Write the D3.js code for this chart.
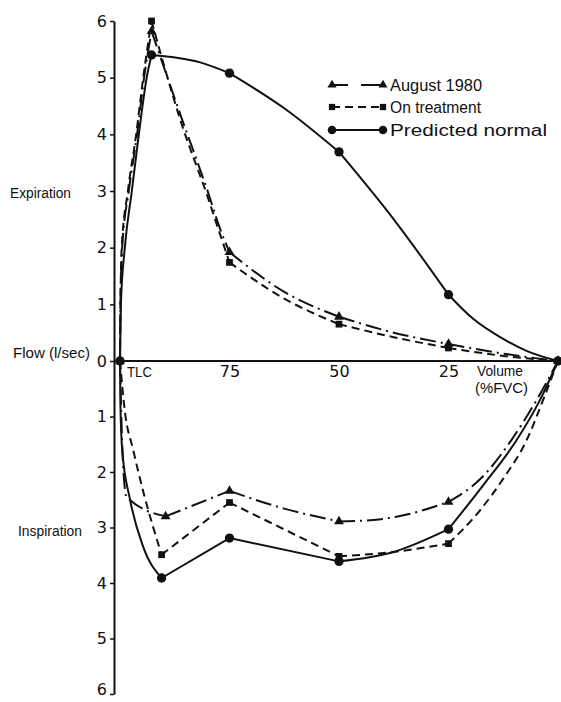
<!DOCTYPE html>
<html><head><meta charset="utf-8">
<script src="https://cdn.jsdelivr.net/npm/d3@7"></script>
<style>
body{margin:0;background:#fff}
svg{display:block}
text{font-family:"Liberation Sans",Arial,sans-serif;fill:#111}
</style>
</head><body>
<svg id="chart" width="561" height="702"></svg>
<script>
// ---------- data ----------
const volumeTicks = [75, 50, 25];                 // % FVC
const flowTicks = [-6,-5,-4,-3,-2,-1,0,1,2,3,4,5,6]; // l/sec (inspiration negative)
const seriesNames = ["August 1980", "On treatment", "Predicted normal"];

// each series: segments of [volume %FVC, flow l/sec]; segment ends are measured points
const augustSegments = [
  [[100,0],[99.9,1],[99.5,2],[98.0,3],[96.1,4],[94.5,5],[92.8,5.82]],
  [[92.8,5.82],[86,4.3],[80,3.0],[77,2.3],[75,1.92]],
  [[75,1.92],[62.5,1.22],[50,0.78]],
  [[50,0.78],[37.5,0.5],[25,0.30]],
  [[25,0.30],[12.5,0.13],[0,0]],
  [[100,0],[99.7,-1.0],[99.2,-2.0],[98.5,-2.45],[89.6,-2.80]],
  [[89.6,-2.80],[75,-2.34]],
  [[75,-2.34],[62.5,-2.66],[50,-2.89]],
  [[50,-2.89],[42.9,-2.87],[35.3,-2.78],[25,-2.54]],
  [[25,-2.54],[17.4,-2.1],[10.6,-1.42],[4.5,-0.65],[0,0]]
];
const treatmentSegments = [
  [[100,0],[99.9,1],[99.6,2],[98.2,3],[96.3,4],[94.7,5],[92.8,6.0]],
  [[92.8,6.0],[86,4.2],[80,2.9],[77,2.2],[75,1.74]],
  [[75,1.74],[62.5,1.1],[50,0.65]],
  [[50,0.65],[37.5,0.42],[25,0.23]],
  [[25,0.23],[12.5,0.09],[0,0]],
  [[100,0],[98.9,-0.9],[97.0,-1.6],[94.7,-2.35],[90.5,-3.49]],
  [[90.5,-3.49],[75,-2.55]],
  [[75,-2.55],[50,-3.52]],
  [[50,-3.52],[37.5,-3.44],[25,-3.29]],
  [[25,-3.29],[17.8,-2.69],[12.5,-2.12],[7.3,-1.45],[3.0,-0.62],[0,0]]
];
const predictedSegments = [
  [[100,0],[99.8,1],[98.9,2],[97.3,3],[95.7,4],[93.9,5],[92.8,5.4]],
  [[92.8,5.4],[81.7,5.27],[75,5.08]],
  [[75,5.08],[62.5,4.46],[50,3.69]],
  [[50,3.69],[37.5,2.5],[25,1.17]],
  [[25,1.17],[19.3,0.74],[13.2,0.42],[7.2,0.18],[0,0]],
  [[100,0],[99.9,-0.8],[99.5,-1.6],[97.7,-2.5],[94.7,-3.35],[90.5,-3.91]],
  [[90.5,-3.91],[75,-3.19]],
  [[75,-3.19],[50,-3.61]],
  [[50,-3.61],[37.5,-3.44],[25,-3.03]],
  [[25,-3.03],[17.1,-2.24],[9.4,-1.42],[4.1,-0.7],[0,0]]
];

// ---------- drawing ----------
const svg = d3.select("#chart");
const ink = "#111";
const x = d3.scaleLinear().domain([100, 0]).range([120, 558]);
const y = d3.scaleLinear().domain([-6, 0, 6]).range([694, 361, 21]);
const axisX = 114;

const styles = [
  {dash: "16,5,2,5", symbol: d3.symbolTriangle, size: 42},
  {dash: "8,5", symbol: d3.symbolSquare, size: 46},
  {dash: null, symbol: d3.symbolCircle, size: 68}
];
const allSeries = [augustSegments, treatmentSegments, predictedSegments];

// y axis
const yAxis = d3.axisLeft(y).tickValues(flowTicks).tickSize(4).tickSizeOuter(0)
  .tickPadding(3).tickFormat(d => String(Math.abs(d)));
const gy = svg.append("g").attr("transform", `translate(${axisX},0)`).call(yAxis);
gy.select(".domain").attr("stroke", ink).attr("stroke-width", 2);
gy.selectAll(".tick line").attr("stroke", ink).attr("stroke-width", 1.5);
gy.selectAll(".tick text").attr("font-size", 16).attr("fill", ink)
  .style("font-family", '"DejaVu Sans",sans-serif')
  .attr("dy", d => d === -6 ? "0.05em" : "0.32em");

// x axis (baseline at zero flow)
const xAxis = d3.axisBottom(x).tickValues(volumeTicks).tickSize(0).tickFormat(d => String(d));
const gx = svg.append("g").attr("transform", `translate(0,${y(0)})`).call(xAxis);
gx.select(".domain").remove();
gx.append("line").attr("x1", axisX).attr("x2", x(0)).attr("stroke", ink).attr("stroke-width", 2);
gx.selectAll(".tick text").attr("font-size", 16).attr("fill", ink).attr("y", 16).attr("dy", 0)
  .style("font-family", '"DejaVu Sans",sans-serif');

// lines
const line = d3.line().x(d => x(d[0])).y(d => y(d[1])).curve(d3.curveMonotoneX);
allSeries.forEach((segs, i) => {
  const g = svg.append("g");
  segs.forEach(seg => {
    g.append("path").attr("d", line(seg)).attr("fill", "none").attr("stroke", ink)
      .attr("stroke-width", 2).attr("stroke-dasharray", styles[i].dash);
  });
});
// markers at measured points (segment ends)
allSeries.forEach((segs, i) => {
  const seen = new Map();
  segs.forEach(seg => [seg[0], seg[seg.length - 1]].forEach(p => seen.set(p.join(","), p)));
  const sym = d3.symbol().type(styles[i].symbol).size(styles[i].size);
  svg.append("g").selectAll("path").data([...seen.values()]).join("path")
    .attr("d", sym).attr("fill", ink)
    .attr("transform", d => `translate(${x(d[0])},${y(d[1])})`);
});

// legend
const legendY = [85, 107, 130];
const legendWidths = [92, 91, 157];
seriesNames.forEach((name, i) => {
  const g = svg.append("g").attr("transform", `translate(0,${legendY[i]})`);
  g.append("line").attr("x1", 332).attr("x2", 383).attr("stroke", ink).attr("stroke-width", 2)
    .attr("stroke-dasharray", i === 0 ? "16,13,22" : styles[i].dash);
  const sym = d3.symbol().type(styles[i].symbol).size(styles[i].size * 0.85);
  [332, 383].forEach(px => g.append("path").attr("d", sym).attr("fill", ink)
    .attr("transform", `translate(${px},0)`));
  g.append("text").attr("x", 390).attr("y", 6).attr("font-size", 16)
    .attr("textLength", legendWidths[i]).attr("lengthAdjust", "spacingAndGlyphs").text(name);
});

// labels
const labels = [
  {t: "Expiration", x: 10, y: 198, w: 61, s: 14},
  {t: "Flow (l/sec)", x: 13, y: 358, w: 77, s: 14},
  {t: "Inspiration", x: 18, y: 536, w: 64, s: 14},
  {t: "TLC", x: 127, y: 377, w: 25, s: 15},
  {t: "Volume", x: 477, y: 376, w: 46, s: 14},
  {t: "(%FVC)", x: 475, y: 393, w: 53, s: 14}
];
labels.forEach(l => svg.append("text").attr("x", l.x).attr("y", l.y).attr("font-size", l.s)
  .attr("textLength", l.w).attr("lengthAdjust", "spacingAndGlyphs").text(l.t));
</script>
</body></html>
